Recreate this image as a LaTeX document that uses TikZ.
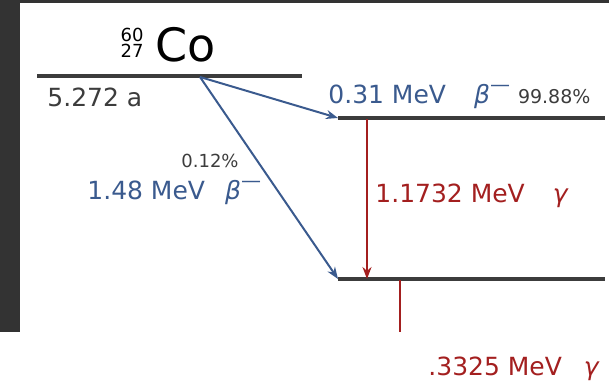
\documentclass[tikz,border=0pt]{standalone}
\usepackage{fontspec}
\setmainfont{DejaVu Sans}
\usetikzlibrary{arrows.meta}
\definecolor{betablue}{HTML}{3A5A8E}
\definecolor{gammared}{HTML}{A31F1F}
\definecolor{levelgray}{HTML}{3C3C3C}
\definecolor{framedark}{HTML}{333333}
\tikzset{
  level/.style={draw=levelgray,line width=1.7pt},
  betaarrow/.style={->,draw=betablue,line width=1pt},
  gammaarrow/.style={->,draw=gammared,line width=1pt},
  lbl/.style={inner sep=0pt,anchor=base west,font=\fontsize{12.5}{12.5}\selectfont},
  pct/.style={inner sep=0pt,text=levelgray,font=\fontsize{9}{9}\selectfont},
}
\newcommand{\betaminus}{\textit{β}\raisebox{0.5em}{\fontsize{10}{10}\selectfont —}}

\begin{document}
\begin{tikzpicture}[>={Stealth[length=6pt,width=4.5pt]},x=0.5pt,y=-0.5pt]
\useasboundingbox (0,0) rectangle (609,384);
\fill[framedark] (0,0) rectangle (20,332);
\fill[framedark] (0,0) rectangle (609,3);

% energy levels
\coordinate (top-l) at (37,76);
\coordinate (top-r) at (302,76);
\coordinate (src) at (200,77);
\coordinate (mid-l) at (338,118);
\coordinate (mid-r) at (605,118);
\coordinate (low-l) at (338,279);
\coordinate (low-r) at (605,279);
\coordinate (g1-top) at (367,119);
\coordinate (g1-bot) at (367,279);
\coordinate (g2-top) at (400,280);
\coordinate (g2-bot) at (400,332);

\draw[level] (top-l) -- (top-r);
\draw[level] (mid-l) -- (mid-r);
\draw[level] (low-l) -- (low-r);

% decays
\draw[betaarrow] (src) -- (mid-l);
\draw[betaarrow] (src) -- (low-l);
\draw[gammaarrow] (g1-top) -- (g1-bot);
\draw[gammared,line width=1pt] (g2-top) -- (g2-bot);

% labels
\node[lbl,font=\fontsize{23}{23}\selectfont] (co) at (155,62) {Co};
\node[inner sep=0pt,anchor=base east,font=\fontsize{9}{9}\selectfont] (mass) at (144,42) {60};
\node[inner sep=0pt,anchor=base east,font=\fontsize{9}{9}\selectfont] (charge) at (144,58) {27};
\node[lbl,text=levelgray] (half) at (47,107) {5.272 a};

\node[lbl,text=betablue] (b1) at (328,104) {0.31 MeV\hspace{14pt}\betaminus\hspace{4pt}{\color{levelgray}\fontsize{9.5}{9.5}\selectfont 99.88\%}};
\node[pct,anchor=base] (p2) at (210,168) {0.12\%};
\node[lbl,text=betablue] (b2) at (87,200) {1.48 MeV\hspace{10pt}\betaminus};
\node[lbl,text=gammared] (g1) at (375,203) {1.1732 MeV\hspace{14pt}\textit{γ}};
\node[lbl,text=gammared] (g2) at (428,375) {.3325 MeV\hspace{11pt}\textit{γ}};
\end{tikzpicture}
\end{document}
